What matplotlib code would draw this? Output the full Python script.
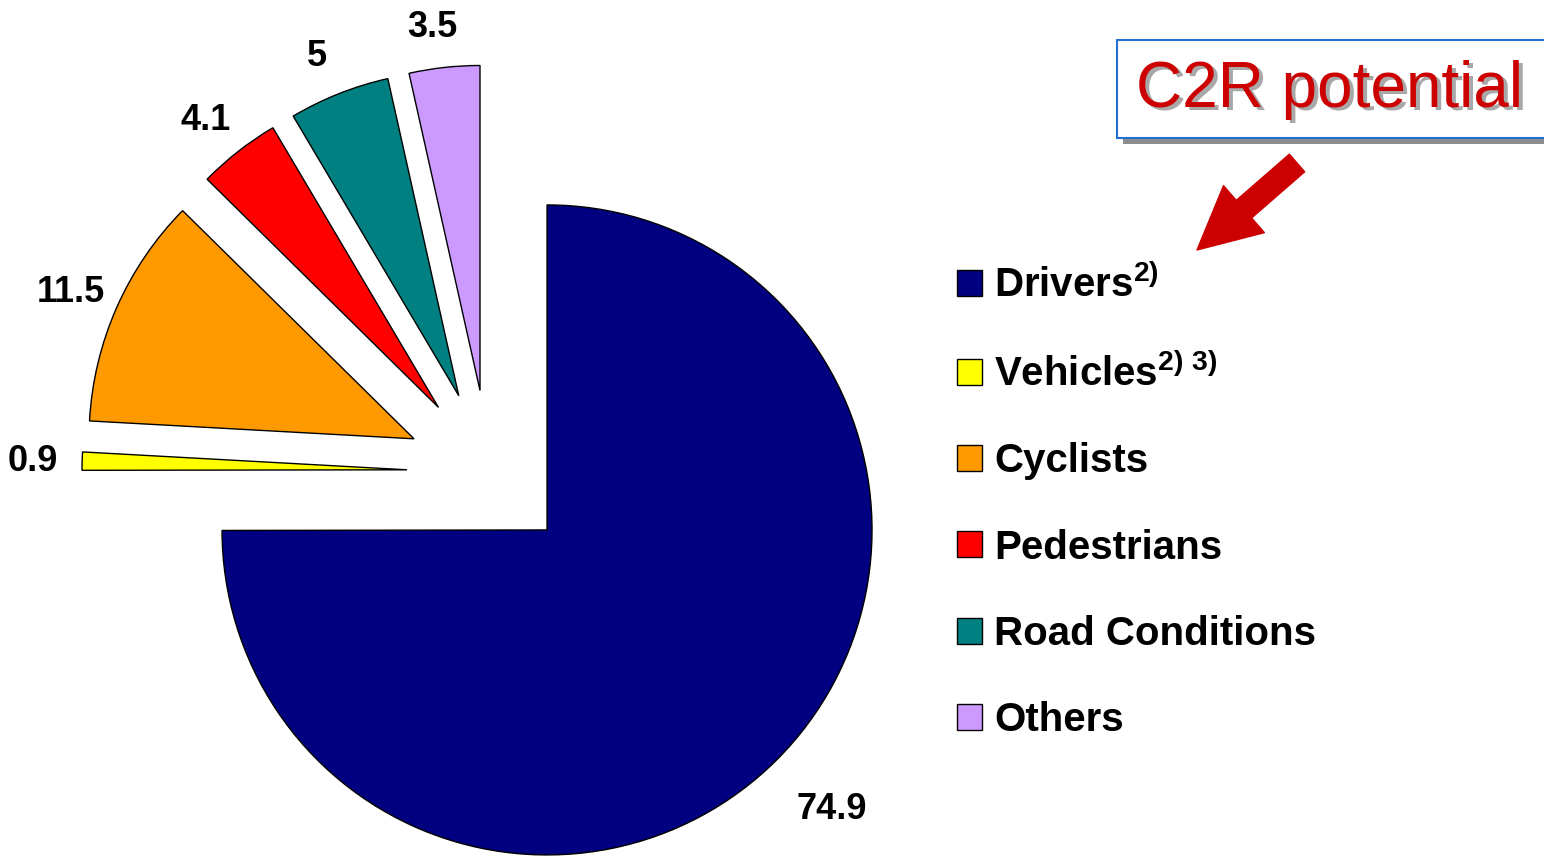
import matplotlib
matplotlib.use("Agg")
import matplotlib.pyplot as plt
import numpy as np

plt.rcParams["font.family"] = ["Liberation Sans", "DejaVu Sans"]
plt.rcParams["mathtext.fontset"] = "custom"
plt.rcParams["mathtext.rm"] = "Liberation Sans:bold"
plt.rcParams["mathtext.bf"] = "Liberation Sans:bold"

# данные с картинки
categories = ["Drivers", "Vehicles", "Cyclists", "Pedestrians", "Road Conditions", "Others"]
legend_labels = [r"Drivers$^{\mathrm{2)}}$", r"Vehicles$^{\mathrm{2)\ 3)}}$",
                 "Cyclists", "Pedestrians", "Road Conditions", "Others"]
values = [74.9, 0.9, 11.5, 4.1, 5, 3.5]
value_labels = ["74.9", "0.9", "11.5", "4.1", "5", "3.5"]
colors = ["#000080", "#FFFF00", "#FF9900", "#FF0000", "#008080", "#CC99FF"]

W, H = 1544, 856
fig = plt.figure(figsize=(W / 100, H / 100), dpi=100)
ax = fig.add_axes([0, 0, 1, 1])

R = 325
# смещение секторов в matplotlib задаётся в единицах данных (здесь пиксели)
wedges, _ = ax.pie(values, colors=colors, startangle=90, counterclock=False,
                   explode=[82] * len(values), radius=R, center=(489, H - 472),
                   wedgeprops=dict(edgecolor="black", linewidth=1.0))
ax.set_xlim(0, W)
ax.set_ylim(0, H)
ax.set_aspect("auto")
ax.axis("off")

# подписи значений снаружи секторов
for i, w in enumerate(wedges):
    mid = np.deg2rad((w.theta1 + w.theta2) / 2)
    k = 1.21 if i == 0 else 1.13
    dx = 6 if i == 0 else -7
    cx, cy = w.center
    ax.text(cx + k * R * np.cos(mid) + dx, cy + k * R * np.sin(mid) - 2,
            value_labels[i], ha="center", va="center", fontsize=26, fontweight="bold")

# легенда справа
fig.legend(wedges, legend_labels, loc="center left",
           bbox_to_anchor=(937 / W, 1 - 502 / H), frameon=False,
           prop=dict(size=29, weight="bold"), handlelength=0.62, handleheight=0.62,
           handletextpad=0.3, labelspacing=1.2, borderpad=0)

# рамка "C2R potential" с тенью
ax.add_patch(plt.Rectangle((1123, H - 144), 440, 98, facecolor="#8C8C8C",
                           edgecolor="none", zorder=3))
ax.add_patch(plt.Rectangle((1117, H - 138), 440, 98, facecolor="white",
                           edgecolor="#2070D0", linewidth=1.5, zorder=4))
ax.text(1333, H - 93, "C2R potential", ha="center", va="center",
        fontsize=46, color="#A8A8A8", zorder=5)
ax.text(1330, H - 90, "C2R potential", ha="center", va="center",
        fontsize=46, color="#CC0000", zorder=6)

# стрелка
ax.annotate("", xy=(1197, H - 250), xytext=(1297, H - 163),
            arrowprops=dict(arrowstyle="simple,head_length=1.6,head_width=1.6,tail_width=0.6",
                            facecolor="#CC0000", edgecolor="#CC0000", mutation_scale=28,
                            shrinkA=0, shrinkB=0))

fig.savefig("out.png", dpi=100)
